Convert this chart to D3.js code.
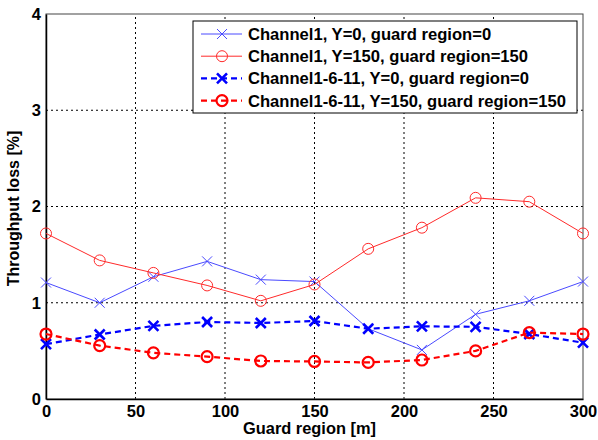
<!DOCTYPE html>
<html>
<head>
<meta charset="utf-8">
<script src="https://cdn.jsdelivr.net/npm/d3@7"></script>
<style>
  body { margin: 0; background: #fff; }
  text { font-family: "Liberation Sans", Arial, sans-serif; font-weight: bold; }
</style>
</head>
<body>
<div class="chart"></div>
<script>
const w = 598;
const h = 440;

const guard = [0, 30, 60, 90, 120, 150, 180, 210, 240, 270, 300];
const ch1Y0 = [1.21, 1.00, 1.27, 1.43, 1.24, 1.22, 0.73, 0.51, 0.88, 1.02, 1.22];
const ch1Y150 = [1.72, 1.44, 1.31, 1.18, 1.02, 1.19, 1.56, 1.78, 2.09, 2.05, 1.72];
const ch1611Y0 = [0.57, 0.67, 0.76, 0.80, 0.79, 0.81, 0.73, 0.755, 0.75, 0.675, 0.585];
const ch1611Y150 = [0.675, 0.555, 0.48, 0.44, 0.395, 0.39, 0.38, 0.405, 0.50, 0.69, 0.675];
const seriesNames = ["Channel1, Y=0, guard region=0", "Channel1, Y=150, guard region=150",
  "Channel1-6-11, Y=0, guard region=0", "Channel1-6-11, Y=150, guard region=150"];
const xTicks = [0, 50, 100, 150, 200, 250, 300];
const yTicks = [0, 1, 2, 3, 4];

const margin = {top: 14, right: 15, bottom: 41, left: 46};

const svg = d3.select(".chart")
  .append("svg")
  .attr("width", w)
  .attr("height", h);

const x = d3.scaleLinear().domain([0, 300]).range([margin.left, w - margin.right]);
const y = d3.scaleLinear().domain([0, 4]).range([h - margin.bottom, margin.top]);

// grid
svg.append("g")
  .selectAll("line")
  .data(xTicks.slice(1, -1))
  .enter().append("line")
  .attr("x1", d => x(d)).attr("x2", d => x(d))
  .attr("y1", y(0)).attr("y2", y(4))
  .attr("stroke", "#000").attr("stroke-width", 1)
  .attr("stroke-dasharray", "2,3");

svg.append("g")
  .selectAll("line")
  .data(yTicks.slice(1, -1))
  .enter().append("line")
  .attr("x1", x(0)).attr("x2", x(300))
  .attr("y1", d => y(d)).attr("y2", d => y(d))
  .attr("stroke", "#000").attr("stroke-width", 1)
  .attr("stroke-dasharray", "2,3");

// box
svg.append("rect")
  .attr("x", x(0)).attr("y", y(4))
  .attr("width", x(300) - x(0)).attr("height", y(0) - y(4))
  .attr("fill", "none").attr("stroke", "#444").attr("stroke-width", 1);

// axes
const xAxis = svg.append("g")
  .attr("transform", `translate(0,${y(0)})`)
  .call(d3.axisBottom(x).tickValues(xTicks).tickSize(0).tickPadding(6));
xAxis.select(".domain").attr("stroke", "#000").attr("stroke-width", 1.5);
xAxis.selectAll("text").attr("font-size", 16.5).attr("fill", "#000");

const yAxis = svg.append("g")
  .attr("transform", `translate(${x(0)},0)`)
  .call(d3.axisLeft(y).tickValues(yTicks).tickFormat(d3.format("d")).tickSize(0).tickPadding(5));
yAxis.select(".domain").attr("stroke", "#000").attr("stroke-width", 1.5);
yAxis.selectAll("text").attr("font-size", 16.5).attr("fill", "#000");

svg.append("text")
  .attr("x", (x(0) + x(300)) / 2 - 5)
  .attr("y", 434)
  .attr("text-anchor", "middle")
  .attr("font-size", 16.4)
  .text("Guard region [m]");

svg.append("text")
  .attr("transform", "translate(19,208.5) rotate(-90)")
  .attr("text-anchor", "middle")
  .attr("font-size", 16)
  .text("Throughput loss [%]");

const series = [
  {name: seriesNames[0], values: ch1Y0, color: "#4a4aff", width: 1, dash: null, marker: "x", mw: 1},
  {name: seriesNames[1], values: ch1Y150, color: "#ff2a2a", width: 1, dash: null, marker: "o", mw: 1},
  {name: seriesNames[2], values: ch1611Y0, color: "#0000ff", width: 2.2, dash: "6,4", marker: "x", mw: 2.6},
  {name: seriesNames[3], values: ch1611Y150, color: "#ff0000", width: 2.2, dash: "6,4", marker: "o", mw: 2.2}
];

const line = d3.line().x((d, i) => x(guard[i])).y(d => y(d));

function drawMarker(g, type, color, mw) {
  if (type === "x") {
    g.append("path").attr("d", "M-5,-5L5,5M-5,5L5,-5")
      .attr("stroke", color).attr("stroke-width", mw).attr("fill", "none");
  } else {
    g.append("circle").attr("r", 5.5)
      .attr("stroke", color).attr("stroke-width", mw).attr("fill", "none");
  }
}

series.forEach(s => {
  svg.append("path")
    .datum(s.values)
    .attr("d", line)
    .attr("fill", "none")
    .attr("stroke", s.color)
    .attr("stroke-width", s.width)
    .attr("stroke-dasharray", s.dash);
  s.values.forEach((v, i) => {
    const g = svg.append("g").attr("transform", `translate(${x(guard[i])},${y(v)})`);
    drawMarker(g, s.marker, s.color, s.mw);
  });
});

// legend
const legend = svg.append("g");
legend.append("rect")
  .attr("x", 193).attr("y", 21)
  .attr("width", 384).attr("height", 92)
  .attr("fill", "#fff").attr("stroke", "#000").attr("stroke-width", 1);

series.forEach((s, i) => {
  const ly = 34 + i * 22.2;
  legend.append("line")
    .attr("x1", 201).attr("x2", 242)
    .attr("y1", ly).attr("y2", ly)
    .attr("stroke", s.color).attr("stroke-width", s.width)
    .attr("stroke-dasharray", s.dash);
  const g = legend.append("g").attr("transform", `translate(222,${ly})`);
  drawMarker(g, s.marker, s.color, s.mw);
  legend.append("text")
    .attr("x", 248).attr("y", ly + 6)
    .attr("font-size", 16.6)
    .text(s.name);
});
</script>
</body>
</html>
